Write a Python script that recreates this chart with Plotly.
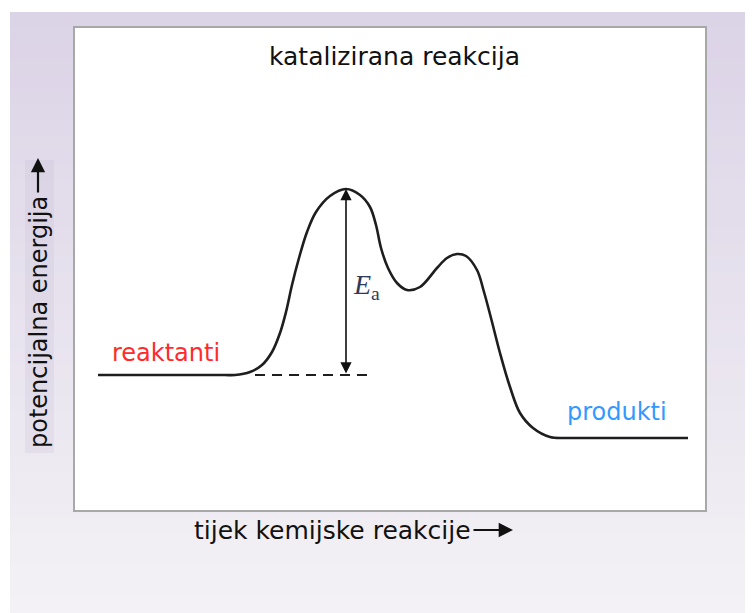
import plotly.graph_objects as go

# Reaction coordinate (arbitrary units) and potential energy (arbitrary units)
reaction_coord = [23, 90, 130, 150, 160, 175, 187, 197, 205, 211, 217, 224, 232, 241, 255, 271,
                  285, 295, 301, 306, 313, 322, 332, 345, 362, 372, 382, 391, 402,
                  409, 416, 425, 435, 445, 458, 475, 490, 505, 550, 613]
energy = [135, 135, 135, 135, 135, 138, 145, 158, 177, 198, 225, 252, 278, 298, 314, 321,
          315, 303, 285, 262, 242, 227, 220, 223, 242, 252, 256, 254, 240,
          218, 192, 157, 123, 97, 82, 73, 72, 72, 72, 72]

ea_x = 271
ea_top = 321
ea_base = 135
dash_x = [180, 297]

title_text = "katalizirana reakcija"
x_label = "tijek kemijske reakcije"
y_label = "potencijalna energija"
reactant_label = "reaktanti"
product_label = "produkti"

FONT = "DejaVu Sans"

fig = go.Figure()
fig.add_trace(go.Scatter(x=reaction_coord, y=energy, mode="lines",
                         line=dict(color="#1e1e1e", width=2.6, shape="spline", smoothing=1.0),
                         hoverinfo="skip", showlegend=False))
fig.add_trace(go.Scatter(x=dash_x, y=[ea_base, ea_base], mode="lines",
                         line=dict(color="#1e1e1e", width=1.9, dash="10px,7px"),
                         hoverinfo="skip", showlegend=False))

W, H = 753, 613
OFF = 8  # page body margin
# plot area in screen pixels
SL, SR, ST, SB = 75, 705, 28, 510
L, R, T, B = SL - OFF, SR - OFF, ST - OFF, SB - OFF

def px(x):
    return (x - SL) / (SR - SL)

def py(y):
    return (SB - y) / (SB - ST)

shapes = []
# gradient background bands (screen coords)
n = 40
y0p, y1p = 12, 625
c0 = (219, 211, 230)
c1 = (244, 242, 246)
ov = 1.5 / (SB - ST)
for i in range(n):
    a = y0p + (y1p - y0p) * i / n
    b = y0p + (y1p - y0p) * (i + 1) / n
    t = (i + 0.5) / n
    col = "rgb(%d,%d,%d)" % tuple(round(c0[k] + (c1[k] - c0[k]) * t) for k in range(3))
    shapes.append(dict(type="rect", xref="paper", yref="paper", x0=px(10), x1=px(770),
                       y0=py(b) - ov, y1=py(a), fillcolor=col, line=dict(width=0), layer="below"))
# white plot area
shapes.append(dict(type="rect", xref="paper", yref="paper", x0=0, x1=1, y0=0, y1=1,
                   fillcolor="white", line=dict(width=0), layer="below"))
# y label background
shapes.append(dict(type="rect", xref="paper", yref="paper", x0=px(25), x1=px(54),
                   y0=py(453), y1=py(160), fillcolor="rgba(200,190,215,0.25)",
                   line=dict(width=0), layer="below"))

C = dict(xanchor="center", yanchor="middle", xref="paper", yref="paper", showarrow=False)
annotations = [
    dict(x=px(394), y=py(56), text=title_text,
         font=dict(family=FONT, size=25, color="#111"), **C),
    dict(x=px(166), y=py(353), text=reactant_label,
         font=dict(family=FONT, size=24, color="#ff2a2a"), **C),
    dict(x=px(617), y=py(412), text=product_label,
         font=dict(family=FONT, size=24, color="#3399ff"), **C),
    dict(x=px(366), y=py(286), text="<i>E</i><sub>a</sub>",
         font=dict(family="Liberation Serif", size=28, color="#2f3a58"), **C),
    # x label
    dict(x=px(332), y=py(530), text=x_label,
         font=dict(family=FONT, size=25, color="#111"), **C),
    # y label
    dict(x=px(39), y=py(322), text=y_label, textangle=-90,
         font=dict(family=FONT, size=24, color="#111"), **C),
    # Ea double arrow
    dict(x=ea_x, y=ea_top, ax=ea_x, ay=ea_base, xref="x", yref="y", axref="x", ayref="y",
         text="", showarrow=True, arrowhead=2, arrowsize=1.4, arrowwidth=1.6,
         arrowside="end+start", arrowcolor="#111", standoff=0, startstandoff=0),
    # x label arrow
    dict(x=px(513), y=py(530), ax=-41, ay=0, xref="paper", yref="paper",
         axref="pixel", ayref="pixel", text="", showarrow=True, arrowhead=2,
         arrowsize=1.3, arrowwidth=2.2, arrowcolor="#111"),
    # y label arrow
    dict(x=px(38), y=py(158), ax=0, ay=36, xref="paper", yref="paper",
         axref="pixel", ayref="pixel", text="", showarrow=True, arrowhead=2,
         arrowsize=1.3, arrowwidth=2.2, arrowcolor="#111"),
]

fig.update_layout(
    width=W, height=H,
    margin=dict(l=L, r=W - R, t=T, b=H - B, pad=0),
    paper_bgcolor="white", plot_bgcolor="white",
    shapes=shapes, annotations=annotations,
    xaxis=dict(range=[0, SR - SL], showgrid=False, zeroline=False, showticklabels=False,
               ticks="", showline=True, mirror=True, linecolor="#a8a8a8", linewidth=2,
               fixedrange=True),
    yaxis=dict(range=[0, SB - ST], showgrid=False, zeroline=False, showticklabels=False,
               ticks="", showline=True, mirror=True, linecolor="#a8a8a8", linewidth=2,
               fixedrange=True),
    showlegend=False,
)

fig.write_html("out.html")
